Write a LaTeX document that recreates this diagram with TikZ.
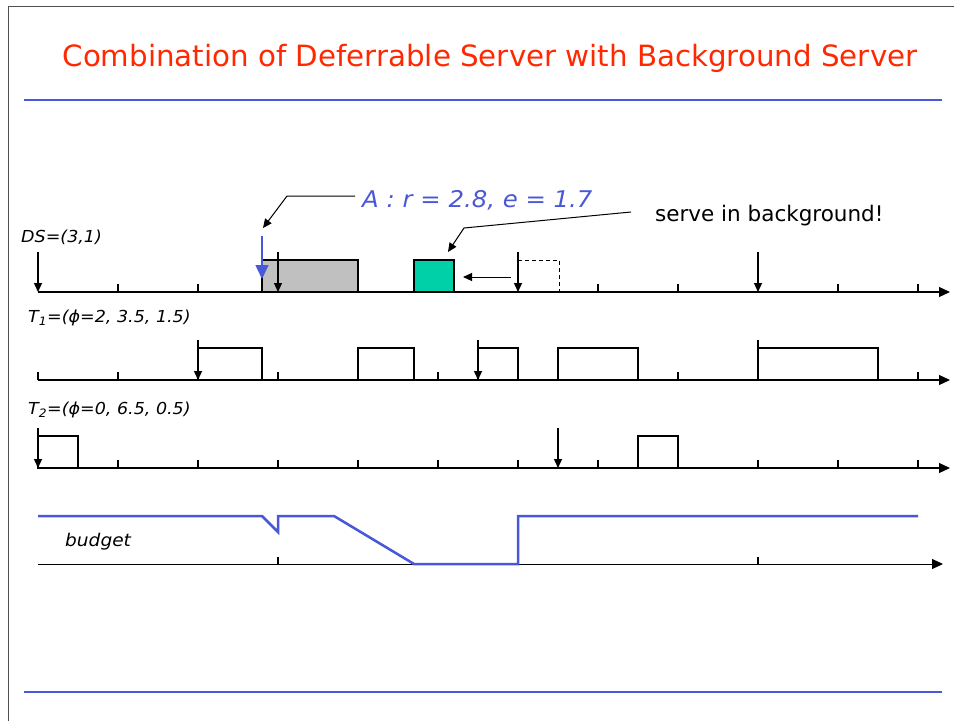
\documentclass[tikz,border=0pt]{standalone}
\usepackage{fontspec}
\setmainfont{DejaVu Sans}
\newfontfamily\widefont[FakeStretch=1.06]{DejaVu Sans}
\usetikzlibrary{arrows.meta}
\definecolor{titlered}{RGB}{255,40,0}
\definecolor{ruleblue}{RGB}{72,88,216}
\definecolor{srvgreen}{RGB}{0,208,168}
\definecolor{busygray}{RGB}{192,192,192}
\definecolor{framegray}{RGB}{80,80,80}
\begin{document}
\begin{tikzpicture}[x=1pt,y=-1pt,
  timeaxis/.style={line width=1.2pt,-{Triangle[width=10pt,length=11pt]}},
  tickmark/.style={line width=1.2pt},
  release/.style={line width=1.2pt,-{Triangle[width=8pt,length=9pt]}},
  pointer/.style={line width=1pt,-{Triangle[width=8pt,length=9pt]}},
  job/.style={draw,line width=1.2pt,fill=white},
  lbl/.style={font=\widefont\fontsize{16.5}{19}\selectfont\itshape,anchor=west,inner sep=0pt},
]
\useasboundingbox (0,0) rectangle (954,721);

% slide frame and rules
\draw[framegray,line width=1pt] (8,721) -- (8,6) -- (954,6);
\draw[ruleblue,line width=2pt] (24,100) -- (942,100);
\draw[ruleblue,line width=2pt] (24,692) -- (942,692);

\node[titlered,font=\fontsize{29.3}{34}\selectfont] (title) at (490,58)
  {Combination of Deferrable Server with Background Server};

% ---------------- DS row (axis y = 292) ----------------
\node[lbl] (lblDS) at (21,237) {DS=(3,1)};
\draw[timeaxis] (38,292) -- (950,292);
\foreach \x in {118,198,278,358,438,598,678,838,918}
  \draw[tickmark] (\x,284) -- (\x,292);
\draw[line width=1.2pt,fill=busygray] (262,292) rectangle (358,260);
\draw[line width=1.2pt,fill=srvgreen] (414,292) rectangle (454,260);
\draw[line width=1pt,dashed,dash pattern=on 4pt off 3pt] (518,260) -- (559,260) -- (559,292);
\foreach \x in {38,278,518,758}
  \draw[release] (\x,252) -- (\x,292);
\draw[ruleblue,line width=1.5pt,-{Triangle[width=13pt,length=14pt]}] (262,236) -- (262,279);
\coordinate (moveFrom) at (511,277);
\coordinate (moveTo) at (463,277);
\draw[pointer] (moveFrom) -- (moveTo);

% arrival annotation
\node[ruleblue,font=\widefont\fontsize{23}{26}\selectfont\itshape,anchor=west,inner sep=0pt] (arrA) at (362,200)
  {A : r = 2.8, e = 1.7};
\coordinate (aKnee) at (287,196);
\coordinate (aTip) at (263,228);
\draw[pointer] (arrA.west) ++(-7,-4) coordinate (aStart) -- (aKnee) -- (aTip);

% background annotation
\node[font=\fontsize{21.5}{25}\selectfont,anchor=west,inner sep=0pt] (bgNote) at (655,216)
  {serve in background!};
\coordinate (bStart) at (631,212);
\coordinate (bKnee) at (464,228);
\coordinate (bTip) at (448,252);
\draw[pointer] (bStart) -- (bKnee) -- (bTip);

% ---------------- T1 row (axis y = 380) ----------------
\node[lbl] (lblT1) at (28,318) {T\textsubscript{1}=(ϕ=2, 3.5, 1.5)};
\draw[timeaxis] (38,380) -- (950,380);
\foreach \x in {38,118,198,278,358,438,518,598,678,758,838,918}
  \draw[tickmark] (\x,372) -- (\x,380);
\draw[line width=1.2pt] (758,340) -- (758,380);
\draw[job] (198,380) rectangle (262,348);
\draw[job] (358,380) rectangle (414,348);
\draw[job] (478,380) rectangle (518,348);
\draw[job] (558,380) rectangle (638,348);
\draw[job] (758,380) rectangle (878,348);
\foreach \x in {198,478}
  \draw[release] (\x,340) -- (\x,380);

% ---------------- T2 row (axis y = 468) ----------------
\node[lbl] (lblT2) at (28,410) {T\textsubscript{2}=(ϕ=0, 6.5, 0.5)};
\draw[timeaxis] (38,468) -- (950,468);
\foreach \x in {118,198,278,358,438,518,598,678,758,838,918}
  \draw[tickmark] (\x,460) -- (\x,468);
\draw[job] (38,468) rectangle (78,436);
\draw[job] (638,468) rectangle (678,436);
\foreach \x in {38,558}
  \draw[release] (\x,428) -- (\x,468);

% ---------------- budget row (axis y = 564) ----------------
\node[font=\widefont\fontsize{17.5}{20}\selectfont\itshape,anchor=west,inner sep=0pt] (lblBudget) at (65,542) {budget};
\draw[timeaxis,line width=1pt] (38,564) -- (943,564);
\foreach \x in {278,758}
  \draw[tickmark] (\x,557) -- (\x,564);
\draw[ruleblue,line width=2.5pt] (38,516) -- (262,516) -- (278,532) -- (278,516) -- (334,516)
  -- (414,564) -- (518,564) -- (518,516) -- (918,516);
\end{tikzpicture}
\end{document}
